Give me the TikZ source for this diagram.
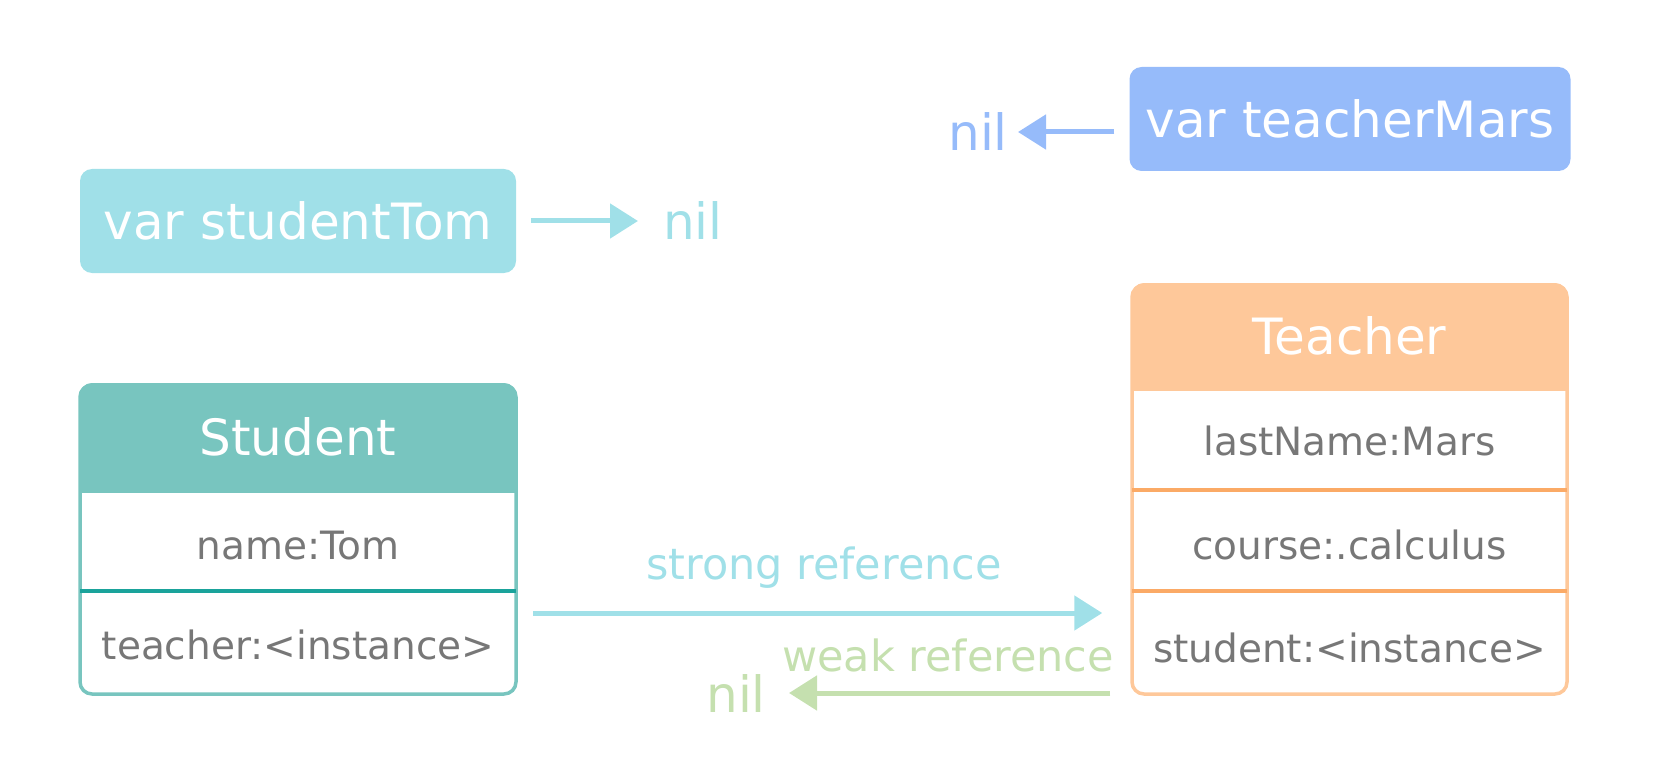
\documentclass[tikz,border=0pt]{standalone}
\usepackage{fontspec}
\setmainfont{DejaVu Sans}
\usepackage{tikz}
\usetikzlibrary{arrows.meta}
\definecolor{tomcolor}{HTML}{A0E0E8}
\definecolor{marscolor}{HTML}{96BBFA}
\definecolor{studentcolor}{HTML}{78C5BF}
\definecolor{studentline}{HTML}{1AA39B}
\definecolor{teachercolor}{HTML}{FEC89A}
\definecolor{teacherline}{HTML}{FBAA66}
\definecolor{weakcolor}{HTML}{C5E0AF}
\definecolor{rowgray}{HTML}{777777}
\tikzset{varbox/.style={rectangle, rounded corners=12pt, minimum width=436pt, minimum height=104pt, text=white, font=\fontsize{50}{58}\selectfont}}
\tikzset{headbox/.style={rectangle, rounded corners=12pt, minimum width=436pt, text=white, font=\fontsize{50}{58}\selectfont}}
\tikzset{classbox/.style={rectangle, rounded corners=12pt, minimum width=436pt, line width=3.5pt}}
\tikzset{rowtext/.style={text=rowgray, font=\fontsize{39}{46}\selectfont}}
\tikzset{reftext/.style={font=\fontsize{43}{50}\selectfont, inner sep=0pt}}
\tikzset{niltext/.style={font=\fontsize{50}{58}\selectfont, inner sep=0pt}}
\tikzset{refline/.style={->, line width=5pt}}

\begin{document}
\begin{tikzpicture}[x=1pt, y=-1pt, >={Triangle[length=28pt,width=34pt]}]
\useasboundingbox (0,0) rectangle (1672,759);
\node[varbox, fill=tomcolor] (studentTom) at (298,221) {var studentTom};
\node[niltext, text=tomcolor, anchor=west] (nilTom) at (663,221) {nil};
\draw[refline, tomcolor, shorten <=15pt, shorten >=25pt] (studentTom) -- (nilTom);
\node[varbox, fill=marscolor, minimum width=441pt] (teacherMars) at (1350,119) {var teacherMars};
\node[niltext, text=marscolor, anchor=east] (nilMars) at (1008,132) {nil};
\draw[refline, marscolor, shorten <=15pt, shorten >=10pt] (teacherMars.west |- nilMars) -- (nilMars);
\fill[studentcolor] (80,440) rectangle (516,493);
\node[headbox, fill=studentcolor, minimum height=108pt] (studentHead) at (298,437) {Student};
\node[classbox, draw=studentcolor, minimum height=309pt] (student) at (298,539.5) {};
\draw[studentline, line width=3.5pt] (80,591) -- (516,591);
\node[rowtext] (studentName) at (298,546) {name:Tom};
\node[rowtext] (studentTeacher) at (298,645) {teacher:<instance>};
\fill[teachercolor] (1132,340) rectangle (1567,391);
\node[headbox, fill=teachercolor, minimum width=435pt, minimum height=106pt] (teacherHead) at (1349.5,336) {Teacher};
\node[classbox, draw=teachercolor, minimum width=435pt, minimum height=409pt] (teacher) at (1349.5,489.5) {};
\draw[teacherline, line width=3.5pt] (1132,490) -- (1567,490);
\draw[teacherline, line width=3.5pt] (1132,591) -- (1567,591);
\node[rowtext] (teacherLast) at (1349.5,441) {lastName:Mars};
\node[rowtext] (teacherCourse) at (1349.5,545) {course:.calculus};
\node[rowtext] (teacherStudent) at (1349.5,648) {student:<instance>};
\coordinate (strongLevel) at (800,613);
\draw[refline, tomcolor, shorten <=15pt, shorten >=28pt] (student.east |- strongLevel) -- (teacher.west |- strongLevel) node[reftext, midway, above=22pt, text=tomcolor] {strong reference};
\node[niltext, text=weakcolor, anchor=east] (nilWeak) at (766,693) {nil};
\draw[refline, weakcolor, shorten <=20pt, shorten >=23pt] (teacher.west |- nilWeak) -- (nilWeak) node[reftext, midway, above=18pt, text=weakcolor] {weak reference};
\end{tikzpicture}
\end{document}
